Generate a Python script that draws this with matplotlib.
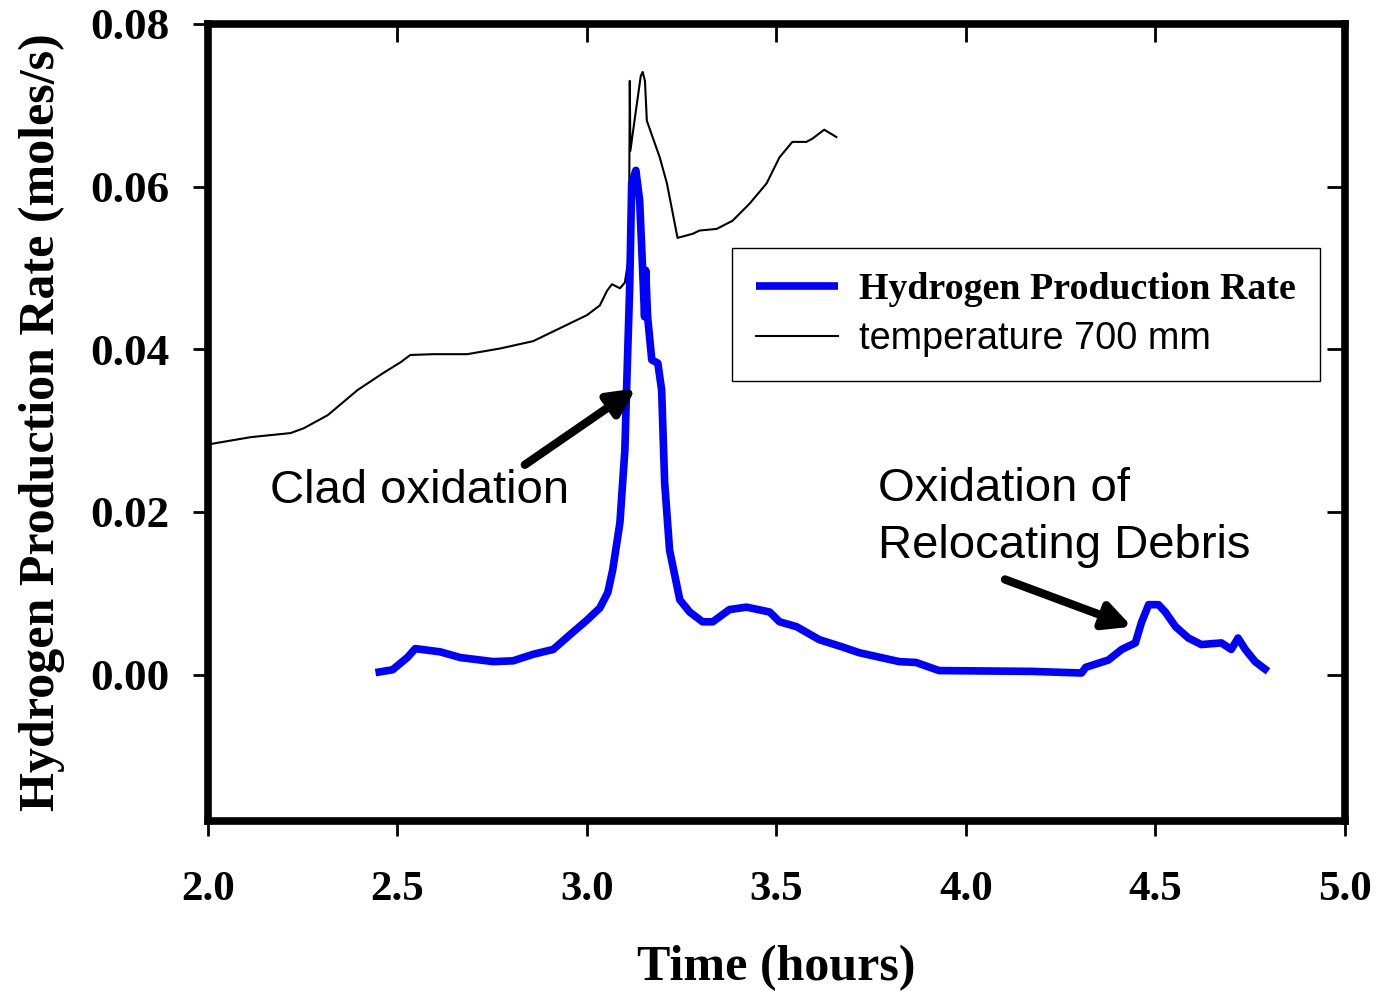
import matplotlib
matplotlib.use("Agg")
import matplotlib.pyplot as plt

# ---------------- data ----------------
h2_time = [2.442, 2.487, 2.526, 2.547, 2.613, 2.666, 2.753, 2.805, 2.858, 2.911,
           2.955, 3.000, 3.034, 3.055, 3.068, 3.087, 3.100, 3.105, 3.113, 3.118,
           3.129, 3.139, 3.147, 3.152, 3.155, 3.160, 3.171, 3.187, 3.197, 3.205,
           3.218, 3.245, 3.271, 3.305, 3.332, 3.376, 3.421, 3.482, 3.508, 3.553,
           3.613, 3.674, 3.718, 3.824, 3.868, 3.929, 4.174, 4.305, 4.316, 4.376,
           4.411, 4.447, 4.463, 4.482, 4.508, 4.526, 4.553, 4.587, 4.621, 4.674,
           4.700, 4.718, 4.737, 4.763, 4.797]
h2_rate = [0.00025, 0.0006, 0.0021, 0.0032, 0.0028, 0.0021, 0.0016, 0.0017, 0.0025, 0.0031,
           0.0049, 0.0067, 0.0082, 0.0101, 0.0129, 0.0187, 0.0276, 0.0358, 0.0481, 0.0604,
           0.0620, 0.0583, 0.0497, 0.0440, 0.0497, 0.0440, 0.0387, 0.0383, 0.0350, 0.0236,
           0.0153, 0.0092, 0.0077, 0.0065, 0.0065, 0.0080, 0.0083, 0.0077, 0.0065, 0.0059,
           0.0043, 0.0034, 0.0027, 0.0016, 0.0015, 0.0005, 0.0004, 0.0002, 0.0009, 0.0018,
           0.0031, 0.0039, 0.0064, 0.0086, 0.0086, 0.0077, 0.0059, 0.0045, 0.0037, 0.0039,
           0.0031, 0.0045, 0.0031, 0.0016, 0.0004]

temp_time = [2.000, 2.113, 2.218, 2.253, 2.316, 2.395, 2.463, 2.508, 2.534, 2.595,
             2.684, 2.771, 2.858, 2.929, 3.000, 3.034, 3.053, 3.066, 3.087, 3.100,
             3.108, 3.111, 3.113, 3.1145, 3.129, 3.142, 3.147, 3.153, 3.158, 3.192,
             3.211, 3.239, 3.279, 3.297, 3.342, 3.384, 3.429, 3.474, 3.508, 3.542,
             3.579, 3.595, 3.626, 3.658]
temp_scaled = [0.0283, 0.0292, 0.0297, 0.0303, 0.0319, 0.0350, 0.0371, 0.0384, 0.0393, 0.0394,
               0.0394, 0.0401, 0.0410, 0.0426, 0.0442, 0.0454, 0.0472, 0.0480, 0.0475, 0.0482,
               0.0506, 0.0534, 0.0730, 0.0644, 0.0693, 0.0736, 0.0741, 0.0730, 0.0681, 0.0636,
               0.0604, 0.0537, 0.0542, 0.0546, 0.0548, 0.0558, 0.0579, 0.0604, 0.0636, 0.0655,
               0.0655, 0.0659, 0.0670, 0.0661]

x_ticks = [2.0, 2.5, 3.0, 3.5, 4.0, 4.5, 5.0]
x_tick_labels = ["2.0", "2.5", "3.0", "3.5", "4.0", "4.5", "5.0"]
y_ticks = [0.00, 0.02, 0.04, 0.06, 0.08]
y_tick_labels = ["0.00", "0.02", "0.04", "0.06", "0.08"]

series_labels = ["Hydrogen Production Rate", "temperature 700 mm"]
note1 = "Clad oxidation"
note2_lines = ["Oxidation of", "Relocating Debris"]

# ---------------- figure ----------------
SERIF = ["Liberation Serif", "DejaVu Serif"]
SANS = ["Liberation Sans", "DejaVu Sans"]

fig = plt.figure(figsize=(13.8, 9.94), dpi=100)
ax = fig.add_axes([0.1507, 0.174, 0.8239, 0.8019])

l1, = ax.plot(h2_time, h2_rate, color="#0000ff", lw=5.5, solid_joinstyle="round",
              solid_capstyle="butt", zorder=3)
l2, = ax.plot(temp_time, temp_scaled, color="black", lw=1.5, zorder=2,
              solid_joinstyle="round")

ax.set_xlim(2.0, 5.0)
ax.set_ylim(-0.018, 0.08)

for s in ax.spines.values():
    s.set_linewidth(5.5)

ax.set_xticks(x_ticks)
ax.set_xticklabels(x_tick_labels)
ax.set_yticks(y_ticks)
ax.set_yticklabels(y_tick_labels)
ax.tick_params(axis="both", direction="out", length=11, width=2)
ax.tick_params(axis="x", pad=25, labelsize=31)
ax.tick_params(axis="y", pad=17, labelsize=32.5)
for lab in ax.get_xticklabels() + ax.get_yticklabels():
    lab.set_fontfamily(SERIF)
    lab.set_fontweight("bold")

# inward ticks on top and right
secx = ax.secondary_xaxis("top")
secx.set_xticks(x_ticks)
secx.tick_params(direction="in", length=13, width=2, labeltop=False)
secx.spines["top"].set_visible(False)
secy = ax.secondary_yaxis("right")
secy.set_yticks(y_ticks)
secy.tick_params(direction="in", length=13, width=2, labelright=False)
secy.spines["right"].set_visible(False)

ax.set_xlabel("Time (hours)", fontsize=36, fontweight="bold", family=SERIF, labelpad=26)
ax.set_ylabel("Hydrogen Production Rate (moles/s)", fontsize=36, fontweight="bold",
              family=SERIF, labelpad=18)

leg = ax.legend([l1, l2], series_labels, loc="upper left",
                bbox_to_anchor=(0.461, 0.719), fontsize=27.3, frameon=True,
                fancybox=False, edgecolor="black", framealpha=1,
                handlelength=2.15, handletextpad=0.56, borderpad=0.64,
                labelspacing=0.36, borderaxespad=0)
leg.get_frame().set_linewidth(1.0)
t0, t1 = leg.get_texts()
t0.set_fontfamily(SERIF)
t0.set_fontweight("bold")
t1.set_fontfamily(SANS)

# annotations
ax.text(2.164, 0.0211, note1, fontsize=34, family=SANS, va="baseline", ha="left")
ax.text(3.768, 0.0214, note2_lines[0], fontsize=34, family=SANS, va="baseline", ha="left")
ax.text(3.768, 0.0143, note2_lines[1], fontsize=34, family=SANS, va="baseline", ha="left")

arrow_kw = dict(arrowstyle="-|>", lw=6, color="black", mutation_scale=40,
                shrinkA=0, shrinkB=0)
ax.annotate("", xy=(3.129, 0.0352), xytext=(2.836, 0.0258), arrowprops=arrow_kw)
ax.annotate("", xy=(4.438, 0.0059), xytext=(4.103, 0.0117), arrowprops=arrow_kw)

fig.savefig("out.png", dpi=100)
